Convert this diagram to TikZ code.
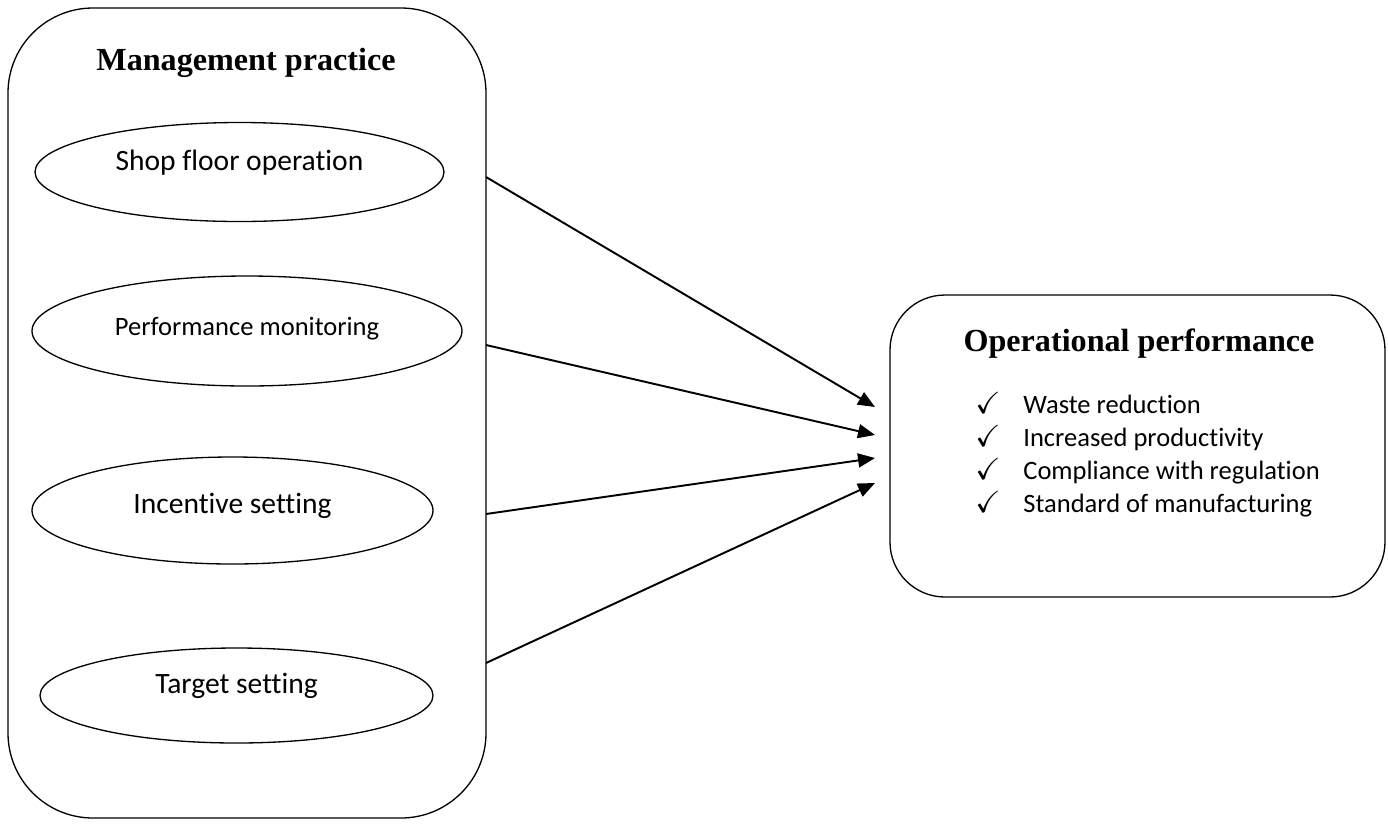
\documentclass[tikz,border=0pt]{standalone}
\usepackage{amssymb}
\usepackage{fontspec}
\setmainfont{Liberation Serif}
\newfontfamily\bodyfont[Ligatures=NoCommon]{Carlito}
\usetikzlibrary{positioning, arrows.meta, shapes.geometric}
\tikzset{
  group/.style  = {rectangle, draw=black, line width=0.75pt, fill=none},
  title/.style  = {anchor=base, inner sep=0pt, font=\fontsize{18.3}{22}\selectfont\bfseries},
  factor/.style = {ellipse, draw=black, line width=0.75pt, inner sep=0pt,
                   text height=0.3cm, font=\bodyfont\fontsize{16.8}{20}\selectfont},
  item/.style   = {anchor=base west, inner sep=0pt,
                   font=\bodyfont\fontsize{15.1}{18}\selectfont},
  arr/.style    = {-{Triangle[length=0.34cm,width=0.28cm]}, line width=1.1pt},
}

\begin{document}
\begin{tikzpicture}

  \useasboundingbox (0,0) rectangle (27.76,-16.5);

  % management practice
  \node[group, rounded corners=1.7cm, minimum width=9.56cm, minimum height=16.2cm]
       (mp) at (4.94,-8.26) {};
  \node[title] (mptitle) at (4.92,-1.4) {Management practice};

  \node[factor, text depth=0.38cm, minimum width=8.18cm, minimum height=1.98cm]
       (shop) at (4.79,-3.44) {Shop floor operation};
  \node[factor, text depth=0.14cm, minimum width=8.6cm, minimum height=2.2cm,
        font=\bodyfont\fontsize{15.1}{18}\selectfont]
       (perf) at (4.94,-6.62) {Performance monitoring};
  \node[factor, text depth=0.2cm, minimum width=8.02cm, minimum height=2.14cm]
       (incent) at (4.65,-10.21) {Incentive setting};
  \node[factor, text depth=0.4cm, minimum width=7.86cm, minimum height=1.9cm]
       (target) at (4.73,-13.91) {Target setting};

  % operational performance
  \node[group, rounded corners=1.1cm, minimum width=9.9cm, minimum height=6.04cm]
       (op) at (22.75,-8.92) {};
  \node[title] (optitle) at (22.78,-7.02) {Operational performance};

  \foreach \txt [count=\i] in {Waste reduction, Increased productivity,
      Compliance with regulation, Standard of manufacturing}
    \node[item] (it\i) at (19.5,{-8.26-0.66*(\i-1)})
         {\makebox[0.96cm][l]{\scalebox{1.15}{$\checkmark$}}\txt};

  % connectors
  \coordinate (s1) at (9.72,-3.54);
  \coordinate (s2) at (9.72,-6.9);
  \coordinate (s3) at (9.72,-10.28);
  \coordinate (s4) at (9.72,-13.26);
  \coordinate (e1) at (17.5,-8.14);
  \coordinate (e2) at (17.5,-8.7);
  \coordinate (e3) at (17.5,-9.16);
  \coordinate (e4) at (17.5,-9.66);

  \draw[arr] (s1) -- (e1);
  \draw[arr] (s2) -- (e2);
  \draw[arr] (s3) -- (e3);
  \draw[arr] (s4) -- (e4);

\end{tikzpicture}
\end{document}
